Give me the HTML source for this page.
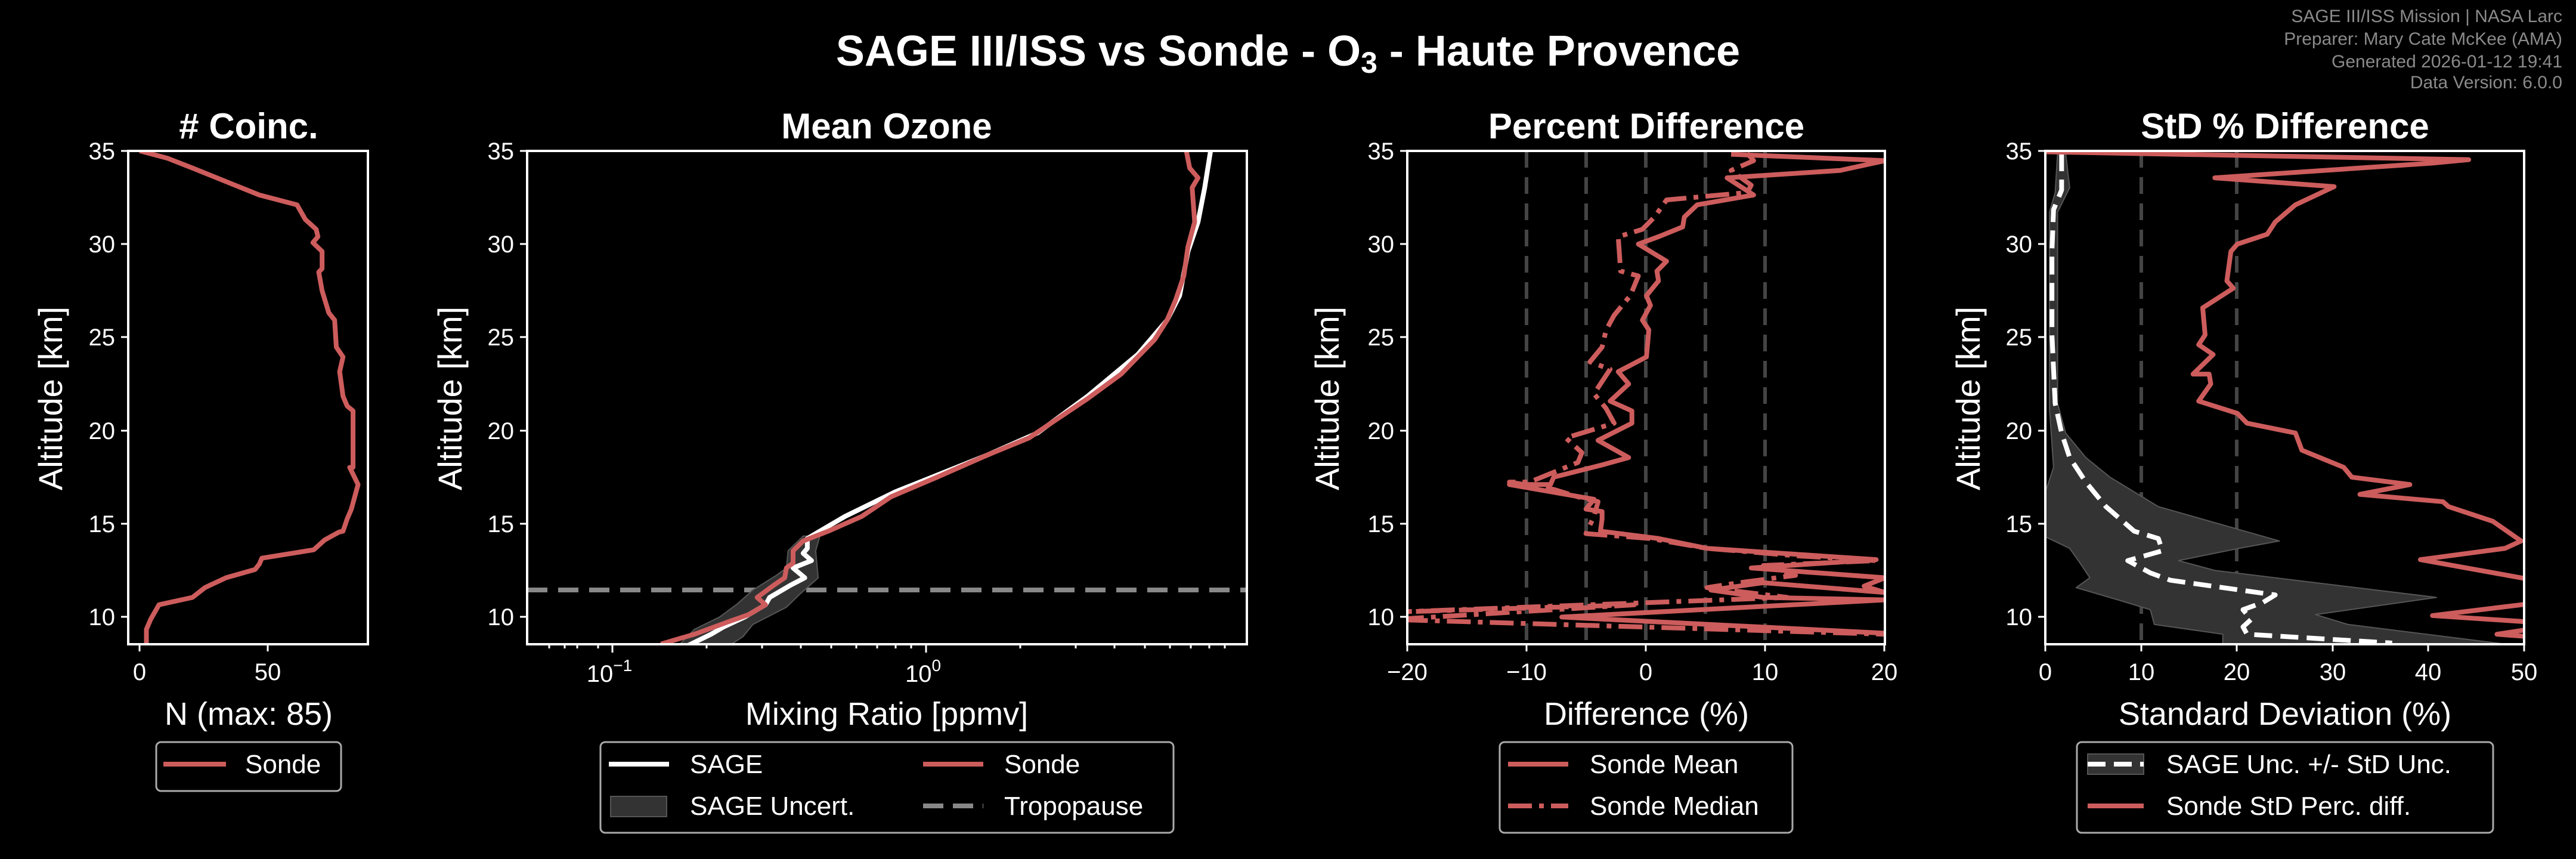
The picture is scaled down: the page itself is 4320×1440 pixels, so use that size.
<!DOCTYPE html>
<html><head><meta charset="utf-8"><style>
html,body{margin:0;padding:0;background:#000;}
svg{display:block;font-family:"Liberation Sans",sans-serif;}
.t{fill:#fff;}
.ns{vector-effect:non-scaling-stroke;fill:none;stroke-linejoin:round;}
</style></head><body>
<svg width="4320" height="1440" viewBox="0 0 4320 1440" xmlns="http://www.w3.org/2000/svg">
<rect width="4320" height="1440" fill="#000"/>
<!-- header -->
<text x="2160" y="110" text-anchor="middle" font-size="72" font-weight="bold" class="t">SAGE III/ISS vs Sonde - O<tspan font-size="50" dy="12">3</tspan><tspan dy="-12"> - Haute Provence</tspan></text>
<g fill="#8a8a8a" font-size="30" text-anchor="end">
<text x="4297" y="37">SAGE III/ISS Mission | NASA Larc</text>
<text x="4297" y="75">Preparer: Mary Cate McKee (AMA)</text>
<text x="4297" y="113">Generated 2026-01-12 19:41</text>
<text x="4297" y="148">Data Version: 6.0.0</text>
</g>
<!-- titles -->
<g font-size="60" font-weight="bold" class="t" text-anchor="middle">
<text x="417" y="232"># Coinc.</text>
<text x="1487" y="232">Mean Ozone</text>
<text x="2761" y="232">Percent Difference</text>
<text x="3832" y="232">StD % Difference</text>
</g>
<!-- y labels -->
<g font-size="56" class="t" text-anchor="middle">
<text transform="translate(104,668) rotate(-90)">Altitude [km]</text>
<text transform="translate(774,668) rotate(-90)">Altitude [km]</text>
<text transform="translate(2245,668) rotate(-90)">Altitude [km]</text>
<text transform="translate(3320,668) rotate(-90)">Altitude [km]</text>
</g>
<!-- x labels -->
<g font-size="54" class="t" text-anchor="middle">
<text x="417" y="1215">N (max: 85)</text>
<text x="1487" y="1215">Mixing Ratio [ppmv]</text>
<text x="2761" y="1215">Difference (%)</text>
<text x="3832" y="1215">Standard Deviation (%)</text>
</g>
<!-- y ticks -->
<g stroke="#fff" stroke-width="3">
<path d="M215 253h-12M215 409h-12M215 565h-12M215 722h-12M215 878h-12M215 1034h-12"/>
<path d="M884 253h-12M884 409h-12M884 565h-12M884 722h-12M884 878h-12M884 1034h-12"/>
<path d="M2360 253h-12M2360 409h-12M2360 565h-12M2360 722h-12M2360 878h-12M2360 1034h-12"/>
<path d="M3430 253h-12M3430 409h-12M3430 565h-12M3430 722h-12M3430 878h-12M3430 1034h-12"/>
</g>
<g font-size="40" class="t" text-anchor="end">
<g transform="translate(193,0)"><text y="267">35</text><text y="423">30</text><text y="579">25</text><text y="736">20</text><text y="892">15</text><text y="1048">10</text></g>
<g transform="translate(862,0)"><text y="267">35</text><text y="423">30</text><text y="579">25</text><text y="736">20</text><text y="892">15</text><text y="1048">10</text></g>
<g transform="translate(2338,0)"><text y="267">35</text><text y="423">30</text><text y="579">25</text><text y="736">20</text><text y="892">15</text><text y="1048">10</text></g>
<g transform="translate(3408,0)"><text y="267">35</text><text y="423">30</text><text y="579">25</text><text y="736">20</text><text y="892">15</text><text y="1048">10</text></g>
</g>
<!-- x ticks -->
<g stroke="#fff" stroke-width="3">
<path d="M234 1080v12M449 1080v12"/>
<path d="M1027 1080v14M1553 1080v14"/>
<path d="M921 1080v7M947 1080v7M968 1080v7M1003 1080v7M1185 1080v7M1278 1080v7M1343 1080v7M1394 1080v7M1436 1080v7M1471 1080v7M1502 1080v7M1528 1080v7M1711 1080v7M1804 1080v7M1869 1080v7M1920 1080v7M1962 1080v7M1997 1080v7M2028 1080v7M2054 1080v7"/>
<path d="M2360 1080v12M2560 1080v12M2760 1080v12M2960 1080v12M3160 1080v12"/>
<path d="M3430 1080v12M3591 1080v12M3751 1080v12M3912 1080v12M4072 1080v12M4233 1080v12"/>
</g>
<g font-size="40" class="t" text-anchor="middle">
<text x="234" y="1140">0</text><text x="449" y="1140">50</text>
<text x="1022" y="1143">10<tspan font-size="28" dy="-18">−1</tspan></text>
<text x="1548" y="1143">10<tspan font-size="28" dy="-18">0</tspan></text>
<text x="2360" y="1140">−20</text><text x="2560" y="1140">−10</text><text x="2760" y="1140">0</text><text x="2960" y="1140">10</text><text x="3160" y="1140">20</text>
<text x="3430" y="1140">0</text><text x="3591" y="1140">10</text><text x="3751" y="1140">20</text><text x="3912" y="1140">30</text><text x="4072" y="1140">40</text><text x="4233" y="1140">50</text>
</g>

<defs>
<clipPath id="c1"><rect x="215" y="253" width="402" height="827"/></clipPath>
<clipPath id="c2"><rect x="884" y="253" width="1207" height="827"/></clipPath>
<clipPath id="c3"><rect x="2360" y="253" width="801" height="827"/></clipPath>
<clipPath id="c4"><rect x="3430" y="253" width="803" height="827"/></clipPath>
</defs>

<!-- panel 1 -->
<g clip-path="url(#c1)"><g transform="translate(0,150) scale(1.403,0.8227)">
<path class="ns" stroke="#cd5c5c" stroke-width="8" d="M167,125 L200,140 230,160 310,215 355,235 365,265 378,285 380,300 374,312 385,330 385,365 381,372 385,410 393,455 400,470 402,525 410,545 406,575 410,625 415,645 422,655 422,770 418,770 428,805 420,855 415,875 410,900 405,902 388,918 375,938 313,955 310,967 305,978 270,995 245,1015 230,1035 190,1050 180,1080 175,1100 175,1135"/>
</g></g>

<!-- panel 2 -->
<g clip-path="url(#c2)">
<line x1="884" y1="989" x2="2091" y2="989" stroke="#888" stroke-width="8" stroke-dasharray="34,18"/>
<g transform="translate(0,150) scale(1.403,0.8227)">
<path fill="#333" stroke="#555" stroke-width="2" class="ns" style="fill:#333" d="M960,910 L942,940 940,975 928,990 900,1020 880,1050 860,1075 830,1100 810,1135 870,1135 888,1115 900,1090 940,1055 955,1030 978,995 975,940 980,910Z"/>
<path class="ns" stroke="#fff" stroke-width="8" d="M1447,125 L1440,200 1432,270 1420,330 1410,420 1395,470 1360,540 1300,625 1240,700 1180,745 1070,820 1010,870 965,915 965,935 960,945 970,960 948,975 962,995 945,1010 920,1035 915,1050 890,1075 865,1095 850,1110 820,1135"/>
<path class="ns" stroke="#cd5c5c" stroke-width="8" d="M1418,125 L1422,160 1432,180 1425,200 1428,270 1420,320 1415,380 1405,430 1395,470 1380,510 1360,545 1340,580 1300,630 1265,670 1230,710 1180,745 1120,790 1065,830 1030,870 990,900 960,920 948,940 948,965 940,975 938,995 925,1010 905,1035 915,1050 895,1070 870,1085 830,1110 790,1130"/>
</g></g>

<!-- panel 3 -->
<g clip-path="url(#c3)">
<g stroke="#444" stroke-width="6" stroke-dasharray="28,16">
<line x1="2560" y1="253" x2="2560" y2="1080"/><line x1="2660" y1="253" x2="2660" y2="1080"/><line x1="2760" y1="253" x2="2760" y2="1080"/><line x1="2860" y1="253" x2="2860" y2="1080"/><line x1="2960" y1="253" x2="2960" y2="1080"/>
</g>
<g transform="translate(2200,150) scale(1.352,0.8227)">
<path class="ns" stroke="#cd5c5c" stroke-width="8" stroke-dasharray="40,12,8,12" d="M540,130 L548,145 520,165 545,195 540,210 440,225 425,260 410,285 380,300 383,370 405,380 395,420 375,460 365,490 360,525 345,555 370,570 350,620 365,650 375,680 315,710 335,740 330,760 270,800 245,800 300,815 330,830 355,840 350,870 340,905 420,915 490,935 600,950 700,960 560,970 600,990 530,1005 490,1015 590,1035 100,1065 400,1050 100,1080 711,1110"/>
<path class="ns" stroke="#cd5c5c" stroke-width="8" d="M520,132 L711,145 655,165 515,180 548,215 478,235 462,260 460,280 430,300 405,315 440,350 428,370 430,390 415,420 420,440 410,470 418,490 415,545 380,575 393,600 370,635 397,655 397,680 355,715 393,750 360,765 300,790 296,805 245,805 350,835 340,855 360,860 360,875 358,900 430,915 490,935 700,958 545,975 711,995 685,1012 711,1025 560,1005 495,1020 560,1035 711,1040 310,1075 711,1108"/>
</g></g>

<!-- panel 4 -->
<g clip-path="url(#c4)">
<g stroke="#444" stroke-width="6" stroke-dasharray="28,16">
<line x1="3591" y1="253" x2="3591" y2="1080"/><line x1="3751" y1="253" x2="3751" y2="1080"/>
</g>
<g transform="translate(2200,150) scale(1.352,0.8227)">
<path class="ns" style="fill:#333" stroke="#555" stroke-width="2" d="M925,130 L922,210 915,250 915,650 920,770 912,810 908,830 908,910 940,935 955,970 965,995 948,1015 1000,1040 1040,1060 1045,1090 1130,1110 1130,1135 1504,1135 1285,1090 1245,1070 1395,1035 1120,980 1075,960 1150,935 1200,920 1050,850 1030,830 990,790 960,750 935,700 925,640 925,250 940,200 935,130Z"/>
<path class="ns" stroke="#fff" stroke-width="8" stroke-dasharray="30,14" d="M930,130 L930,205 920,245 918,330 918,500 922,640 930,700 940,750 960,800 985,850 1020,900 1050,915 1055,940 1012,960 1040,985 1065,1000 1130,1015 1195,1030 1180,1045 1155,1060 1165,1080 1155,1095 1160,1110 1260,1120 1340,1128"/>
<path class="ns" stroke="#cd5c5c" stroke-width="8" d="M910,127 L1435,143 1390,150 1120,180 1268,198 1220,235 1195,270 1185,295 1148,315 1140,330 1135,390 1143,405 1105,445 1108,500 1100,520 1118,540 1093,580 1113,580 1115,600 1100,635 1148,660 1160,680 1220,700 1228,735 1280,770 1290,790 1362,805 1300,825 1403,840 1410,850 1465,880 1500,920 1480,935 1375,958 1510,998"/>
<path class="ns" stroke="#cd5c5c" stroke-width="8" d="M1510,1048 L1390,1072 1510,1085"/>
<path class="ns" stroke="#cd5c5c" stroke-width="8" d="M1510,1100 L1470,1110 1510,1115"/>
</g></g>

<!-- frames -->
<g fill="none" stroke="#fff" stroke-width="4">
<rect x="215" y="253" width="402" height="827"/>
<rect x="884" y="253" width="1207" height="827"/>
<rect x="2360" y="253" width="801" height="827"/>
<rect x="3430" y="253" width="803" height="827"/>
</g>

<!-- legends -->
<g fill="#000" stroke="#aaa" stroke-width="3">
<rect x="262" y="1244" width="310" height="82" rx="8"/>
<rect x="1007" y="1244" width="961" height="152" rx="8"/>
<rect x="2515" y="1244" width="491" height="152" rx="8"/>
<rect x="3483" y="1244" width="698" height="152" rx="8"/>
</g>
<g font-size="44" class="t">
<line x1="274" y1="1281" x2="379" y2="1281" stroke="#cd5c5c" stroke-width="8"/>
<text x="411" y="1296">Sonde</text>
<line x1="1021" y1="1281" x2="1122" y2="1281" stroke="#fff" stroke-width="8"/>
<text x="1157" y="1296">SAGE</text>
<line x1="1548" y1="1281" x2="1649" y2="1281" stroke="#cd5c5c" stroke-width="8"/>
<text x="1684" y="1296">Sonde</text>
<rect x="1024" y="1335" width="94" height="34" fill="#333" stroke="#555" stroke-width="2"/>
<text x="1157" y="1366">SAGE Uncert.</text>
<line x1="1548" y1="1351" x2="1649" y2="1351" stroke="#888" stroke-width="8" stroke-dasharray="34,16"/>
<text x="1684" y="1366">Tropopause</text>
<line x1="2529" y1="1281" x2="2630" y2="1281" stroke="#cd5c5c" stroke-width="8"/>
<text x="2666" y="1296">Sonde Mean</text>
<line x1="2529" y1="1351" x2="2630" y2="1351" stroke="#cd5c5c" stroke-width="8" stroke-dasharray="40,12,8,12"/>
<text x="2666" y="1366">Sonde Median</text>
<rect x="3501" y="1264" width="94" height="34" fill="#333" stroke="#555" stroke-width="2"/>
<line x1="3501" y1="1281" x2="3595" y2="1281" stroke="#fff" stroke-width="8" stroke-dasharray="30,14"/>
<text x="3633" y="1296">SAGE Unc. +/- StD Unc.</text>
<line x1="3501" y1="1351" x2="3595" y2="1351" stroke="#cd5c5c" stroke-width="8"/>
<text x="3633" y="1366">Sonde StD Perc. diff.</text>
</g>
</svg>
</body></html>
